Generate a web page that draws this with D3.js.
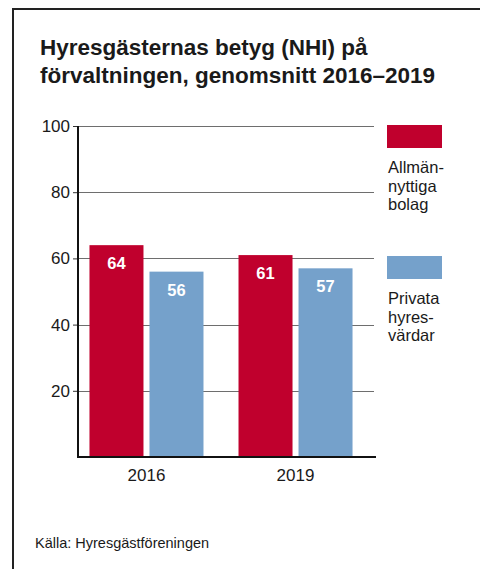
<!DOCTYPE html>
<html>
<head>
<meta charset="utf-8">
<script src="https://cdn.jsdelivr.net/npm/d3@7"></script>
<style>
  body { margin: 0; background: #fff; }
  svg { display: block; font-family: "Liberation Sans", Arial, sans-serif; }
</style>
</head>
<body>
<div id="chart"></div>
<script>
// Hyresgästernas betyg (NHI), grouped bars

const years = ["2016", "2019"];
const seriesNames = ["Allmännyttiga bolag", "Privata hyresvärdar"];
const allmannyttiga = [64, 61];
const privata = [56, 57];
const yTicks = [20, 40, 60, 80, 100];
const legendLines = [["Allmän-", "nyttiga", "bolag"], ["Privata", "hyres-", "värdar"]];
const colors = ["#c0002d", "#75a1cb"];

const width = 480, height = 569;

const svg = d3.select("#chart").append("svg")
  .attr("width", width)
  .attr("height", height);

// frame: top + left rule
svg.append("line")
  .attr("x1", 13).attr("x2", width).attr("y1", 9).attr("y2", 9)
  .attr("stroke", "#222").attr("stroke-width", 2);
svg.append("line")
  .attr("x1", 13).attr("x2", 13).attr("y1", 8).attr("y2", height)
  .attr("stroke", "#222").attr("stroke-width", 2);

// Title
const title = svg.append("text")
  .attr("x", 40)
  .attr("y", 55)
  .style("font-size", "22.5px")
  .style("font-weight", "700")
  .attr("fill", "#1a1a1a");
title.append("tspan").attr("x", 40).text("Hyresgästernas betyg (NHI) på");
title.append("tspan").attr("x", 40).attr("dy", 28).text("förvaltningen, genomsnitt 2016–2019");

const plotLeft = 78, plotRight = 375, plotTop = 126, plotBottom = 457;

const y = d3.scaleLinear().domain([0, 100]).range([plotBottom, plotTop]);
const x0 = d3.scaleBand().domain(years).range([plotLeft, 364]).paddingInner(0.235).paddingOuter(0.077);
const x1 = d3.scaleBand().domain(seriesNames).range([0, x0.bandwidth()]).paddingInner(0.1);

// gridlines
svg.append("g")
  .selectAll("line")
  .data(yTicks)
  .join("line")
  .attr("x1", plotLeft).attr("x2", plotRight - 1)
  .attr("y1", d => Math.round(y(d)) + 0.5).attr("y2", d => Math.round(y(d)) + 0.5)
  .attr("stroke", "#6e6e6e").attr("stroke-width", 1);

// y axis
const yAxis = svg.append("g")
  .attr("transform", `translate(${plotLeft},0)`)
  .call(d3.axisLeft(y).tickValues(yTicks).tickSize(5).tickPadding(3));
yAxis.select(".domain").remove();
yAxis.selectAll("line").attr("stroke", "#333");
yAxis.selectAll("text")
  .style("font-size", "17px")
  .attr("fill", "#1a1a1a")
  .attr("font-family", "Liberation Sans, Arial, sans-serif");

// bars
const rows = years.map((yr, i) => ({ year: yr, values: [allmannyttiga[i], privata[i]] }));
const groups = svg.append("g")
  .selectAll("g")
  .data(rows)
  .join("g")
  .attr("transform", d => `translate(${x0(d.year)},0)`);

groups.selectAll("rect")
  .data(d => d.values.map((v, j) => ({ key: seriesNames[j], v, j })))
  .join("rect")
  .attr("x", d => x1(d.key))
  .attr("y", d => y(d.v))
  .attr("width", x1.bandwidth())
  .attr("height", d => y(0) - y(d.v))
  .attr("fill", d => colors[d.j]);

groups.selectAll("text.val")
  .data(d => d.values.map((v, j) => ({ key: seriesNames[j], v, j })))
  .join("text")
  .attr("class", "val")
  .attr("x", d => x1(d.key) + x1.bandwidth() / 2)
  .attr("y", d => y(d.v) + 24)
  .attr("text-anchor", "middle")
  .style("font-size", "16.5px")
  .style("font-weight", "700")
  .attr("fill", "#fff")
  .text(d => d.v);

// axes lines
svg.append("line")
  .attr("x1", plotLeft).attr("x2", plotLeft)
  .attr("y1", plotTop).attr("y2", plotBottom + 1)
  .attr("stroke", "#111").attr("stroke-width", 2);
svg.append("line")
  .attr("x1", plotLeft - 1).attr("x2", plotRight + 1)
  .attr("y1", plotBottom).attr("y2", plotBottom)
  .attr("stroke", "#111").attr("stroke-width", 2);

// x labels
svg.append("g")
  .selectAll("text")
  .data(years)
  .join("text")
  .attr("x", d => x0(d) + x0.bandwidth() / 2)
  .attr("y", 481)
  .attr("text-anchor", "middle")
  .style("font-size", "17px")
  .attr("fill", "#1a1a1a")
  .text(d => d);

// legend
const legend = svg.append("g").attr("transform", "translate(387,125)");
legendLines.forEach((lines, i) => {
  const g = legend.append("g").attr("transform", `translate(0,${i * 131})`);
  g.append("rect").attr("width", 55).attr("height", 23).attr("fill", colors[i]);
  const t = g.append("text")
    .attr("y", 48)
    .style("font-size", "16.5px")
    .attr("fill", "#1a1a1a");
  lines.forEach((l, k) => {
    t.append("tspan").attr("x", 1).attr("dy", k === 0 ? 0 : 18.5).text(l);
  });
});

// source
svg.append("text")
  .attr("x", 35)
  .attr("y", 548)
  .style("font-size", "14.5px")
  .attr("fill", "#1a1a1a")
  .text("Källa: Hyresgästföreningen");
</script>
</body>
</html>
